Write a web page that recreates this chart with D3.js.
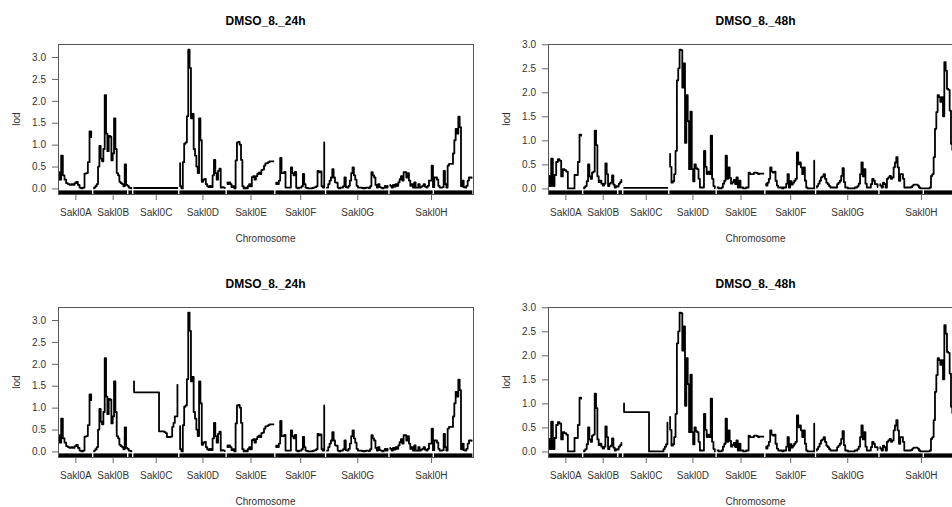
<!DOCTYPE html>
<html lang="en">
<head>
<meta charset="UTF-8">
<title>LOD scans</title>
<script src="https://cdn.jsdelivr.net/npm/d3@7"></script>
<style>
  body { margin: 0; background: #fff; }
  svg { display: block; font-family: "Liberation Sans", Arial, sans-serif; }
</style>
</head>
<body>
<script>
// chromosomes, lengths (cM) and marker-free stretches of the rug
const chromosomes = ["Sakl0A", "Sakl0B", "Sakl0C", "Sakl0D", "Sakl0E", "Sakl0F", "Sakl0G", "Sakl0H"];
const chrLengths = [100, 116, 134, 138, 142, 148, 186, 248];
const chrGap = 4;
const rugGaps = [["Sakl0B", 101, 105], ["Sakl0H", 129, 133]];
const lodTicks = [0, 0.5, 1, 1.5, 2, 2.5, 3];

// LOD values along each chromosome, evenly spaced positions
const lod24h_A = [0.37, 0.2, 0.75, 0.3, 0.2, 0.12, 0.1, 0.08, 0.1, 0.08, 0.12, 0.15, 0.08, 0.02, 0.0, 0.02, 0.34, 0.35, 0.6, 1.3, 1.17];
const lod24h_B = [0.0, 0.02, 0.05, 0.1, 0.5, 0.97, 0.68, 0.62, 0.9, 2.13, 1.25, 0.85, 1.2, 1.18, 0.64, 0.8, 1.6, 0.9, 0.35, 0.3, 0.15, 0.12, 0.1, 0.05, 0.55, 0.08, 0.06, 0.02, 0.01, 0.0];
const lod24h_C = [0.01, 0.01, 0.01, 0.01, 0.01, 0.01, 0.01, 0.01, 0.01, 0.01];
const lod24h_D = [0.58, 0.05, 0.0, 0.6, 1.02, 1.05, 1.65, 3.17, 2.75, 1.6, 1.7, 0.9, 0.75, 0.5, 0.35, 1.6, 1.1, 0.15, 0.2, 0.22, 0.1, 0.05, 0.03, 0.06, 0.03, 0.3, 0.65, 0.35, 0.2, 0.4, 0.45, 0.02, 0.03, 0.02, 0.01];
const lod24h_E = [0.14, 0.1, 0.14, 0.1, 0.03, 0.05, 0.0, 0.64, 1.05, 1.06, 1.0, 0.65, 0.05, 0.0, 0.02, 0.0, 0.05, 0.1, 0.05, 0.26, 0.28, 0.2, 0.28, 0.33, 0.36, 0.33, 0.42, 0.43, 0.52, 0.57, 0.58, 0.6, 0.62, 0.62, 0.62, 0.62];
const lod24h_F = [0.1, 0.13, 0.1, 0.18, 0.7, 0.35, 0.35, 0.38, 0.02, 0.02, 0.02, 0.02, 0.48, 0.35, 0.3, 0.38, 0.02, 0.0, 0.02, 0.02, 0.05, 0.33, 0.1, 0.02, 0.01, 0.0, 0.0, 0.0, 0.01, 0.02, 0.03, 0.05, 0.4, 0.37, 0.39, 0.05, 0.02, 1.05];
const lod24h_G = [0.02, 0.02, 0.1, 0.18, 0.25, 0.44, 0.25, 0.14, 0.13, 0.02, 0.0, 0.02, 0.02, 0.05, 0.25, 0.03, 0.02, 0.06, 0.18, 0.35, 0.48, 0.3, 0.2, 0.06, 0.02, 0.02, 0.02, 0.01, 0.0, 0.01, 0.02, 0.02, 0.01, 0.05, 0.37, 0.3, 0.25, 0.08, 0.02, 0.1, 0.03, 0.02, 0.0, 0.02, 0.06, 0.02, 0.06];
const lod24h_H = [0.08, 0.06, 0.02, 0.08, 0.04, 0.1, 0.06, 0.14, 0.21, 0.28, 0.18, 0.37, 0.37, 0.25, 0.35, 0.18, 0.06, 0.1, 0.02, 0.14, 0.02, 0.02, 0.1, 0.02, 0.04, 0.06, 0.1, 0.04, 0.02, 0.06, 0.18, 0.18, 0.52, 0.03, 0.25, 0.25, 0.2, 0.06, 0.02, 0.02, 0.03, 0.4, 0.1, 0.02, 0.52, 0.56, 0.56, 0.56, 0.8, 1.1, 1.36, 1.25, 1.64, 1.4, 0.05, 0.18, 0.03, 0.02, 0.06, 0.18, 0.25, 0.25, 0.24];
// Sakl0C when its genotypes are filled in (lower row)
const lod24h_C_imp = [1.6, 1.35, 1.35, 1.35, 1.35, 1.35, 1.35, 1.35, 1.35, 1.35, 1.35, 1.35, 1.35, 1.35, 1.35, 1.35, 1.35, 1.35, 1.35, 1.35, 0.46, 0.46, 0.46, 0.46, 0.44, 0.42, 0.33, 0.33, 0.33, 0.34, 0.56, 0.65, 0.8, 0.8, 1.52];

const lod48h_A = [0.26, 0.05, 0.62, 0.05, 0.28, 0.55, 0.61, 0.58, 0.25, 0.4, 0.38, 0.35, 0.0, 0.0, 0.0, 0.0, 0.28, 0.28, 0.55, 1.12, 1.1];
const lod48h_B = [0.0, 0.02, 0.05, 0.15, 0.5, 0.25, 0.2, 0.33, 0.35, 1.2, 0.9, 0.25, 0.13, 0.16, 0.1, 0.06, 0.1, 0.52, 0.3, 0.05, 0.1, 0.12, 0.27, 0.08, 0.02, 0.05, 0.04, 0.1, 0.13, 0.18];
const lod48h_C = [0.01, 0.01, 0.01, 0.01, 0.01, 0.01, 0.01, 0.01, 0.01, 0.01];
const lod48h_D = [0.72, 0.45, 0.12, 0.15, 0.3, 0.78, 2.25, 2.5, 2.89, 2.88, 2.1, 2.6, 0.95, 1.94, 1.4, 0.4, 1.6, 0.4, 0.15, 0.5, 0.42, 0.4, 0.2, 0.02, 0.02, 0.02, 0.78, 0.45, 0.3, 0.35, 0.3, 1.1, 0.2, 0.05, 0.0];
const lod48h_E = [0.02, 0.02, 0.0, 0.0, 0.02, 0.1, 0.16, 0.68, 0.2, 0.44, 0.22, 0.1, 0.13, 0.18, 0.09, 0.23, 0.02, 0.16, 0.02, 0.02, 0.0, 0.0, 0.02, 0.02, 0.33, 0.3, 0.3, 0.3, 0.33, 0.33, 0.32, 0.3, 0.31, 0.31, 0.31, 0.31];
const lod48h_F = [0.1, 0.06, 0.12, 0.2, 0.44, 0.35, 0.33, 0.35, 0.16, 0.06, 0.02, 0.02, 0.02, 0.0, 0.02, 0.02, 0.1, 0.3, 0.02, 0.15, 0.08, 0.12, 0.16, 0.2, 0.75, 0.5, 0.54, 0.44, 0.3, 0.44, 0.16, 0.02, 0.0, 0.0, 0.0, 0.0, 0.0, 0.58];
const lod48h_G = [0.02, 0.05, 0.1, 0.16, 0.23, 0.25, 0.3, 0.2, 0.12, 0.09, 0.05, 0.02, 0.02, 0.02, 0.02, 0.02, 0.09, 0.12, 0.16, 0.26, 0.42, 0.13, 0.02, 0.02, 0.0, 0.0, 0.0, 0.0, 0.0, 0.02, 0.02, 0.05, 0.1, 0.3, 0.54, 0.25, 0.4, 0.1, 0.02, 0.02, 0.02, 0.09, 0.2, 0.16, 0.09, 0.09, 0.03];
const lod48h_H = [0.09, 0.06, 0.02, 0.12, 0.09, 0.02, 0.2, 0.23, 0.26, 0.2, 0.23, 0.44, 0.54, 0.65, 0.44, 0.16, 0.3, 0.3, 0.2, 0.02, 0.02, 0.02, 0.02, 0.02, 0.03, 0.06, 0.08, 0.08, 0.08, 0.06, 0.02, 0.0, 0.0, 0.0, 0.0, 0.0, 0.0, 0.0, 0.02, 0.26, 0.3, 0.65, 1.24, 1.59, 1.94, 1.9, 1.8, 1.9, 1.5, 2.63, 2.45, 2.07, 2.05, 1.62, 0.93, 0.8, 0.5, 0.3, 0.2, 0.15, 0.1, 0.1, 0.1];
const lod48h_C_imp = [1.0, 0.82, 0.82, 0.82, 0.82, 0.82, 0.82, 0.82, 0.82, 0.82, 0.82, 0.82, 0.82, 0.82, 0.82, 0.82, 0.82, 0.82, 0.82, 0.82, 0.0, 0.0, 0.0, 0.0, 0.0, 0.0, 0.0, 0.0, 0.0, 0.0, 0.0, 0.05, 0.1, 0.15, 0.6];

const panels = [
    { title: "DMSO_8._24h", series: [lod24h_A, lod24h_B, lod24h_C, lod24h_D, lod24h_E, lod24h_F, lod24h_G, lod24h_H] },
    { title: "DMSO_8._48h", series: [lod48h_A, lod48h_B, lod48h_C, lod48h_D, lod48h_E, lod48h_F, lod48h_G, lod48h_H] },
    { title: "DMSO_8._24h", series: [lod24h_A, lod24h_B, lod24h_C_imp, lod24h_D, lod24h_E, lod24h_F, lod24h_G, lod24h_H] },
    { title: "DMSO_8._48h", series: [lod48h_A, lod48h_B, lod48h_C_imp, lod48h_D, lod48h_E, lod48h_F, lod48h_G, lod48h_H] }
];

const width = 952;
const height = 507;
const cellW = 490;
const cellH = 263;
const boxLeft = 58;
const boxRight = 473;
const boxTop = 44;
const boxBottom = 194;

// start of each chromosome on the genome-wide axis
const chrStart = [];
let acc = 0;
chrLengths.forEach(len => { chrStart.push(acc); acc += len + chrGap; });
const totalLen = acc - chrGap;

const svg = d3.select("body")
    .append("svg")
    .attr("width", width)
    .attr("height", height);

panels.forEach((panel, k) => {
    const col = k % 2;
    const row = Math.floor(k / 2);
    const g = svg.append("g")
        .attr("transform", `translate(${col * cellW},${row * cellH})`);

    const x = d3.scaleLinear()
        .domain([-2, totalLen + 2])
        .range([boxLeft, boxRight]);

    const maxLod = d3.max(panel.series.flat());
    const y = d3.scaleLinear()
        .domain([-0.04 * maxLod, 1.04 * maxLod])
        .range([boxBottom, boxTop]);

    // rug of markers
    chromosomes.forEach((name, i) => {
        const a = chrStart[i], b = a + chrLengths[i];
        let pieces = [[a, b]];
        rugGaps.filter(r => r[0] === name).forEach(r => {
            pieces = pieces.flatMap(([s, e]) =>
                [[s, a + r[1]], [a + r[2], e]]);
        });
        pieces.forEach(([s, e]) => {
            g.append("rect")
                .attr("x", x(s))
                .attr("y", boxBottom - 3.6)
                .attr("width", x(e) - x(s))
                .attr("height", 3.6)
                .attr("fill", "#000");
        });
    });

    // LOD curves, one path per chromosome (flat between markers)
    const line = d3.line()
        .curve(d3.curveStep)
        .x(d => x(d[0]))
        .y(d => y(d[1]));

    panel.series.forEach((vals, i) => {
        const step = chrLengths[i] / (vals.length - 1);
        const pts = vals.map((v, j) => [chrStart[i] + j * step, v]);
        g.append("path")
            .attr("d", line(pts))
            .attr("fill", "none")
            .attr("stroke", "#000")
            .attr("stroke-width", 1.8)
            .attr("stroke-linejoin", "round");
    });

    // frame
    g.append("rect")
        .attr("x", boxLeft + 0.5)
        .attr("y", boxTop + 0.5)
        .attr("width", boxRight - boxLeft)
        .attr("height", boxBottom - boxTop)
        .attr("fill", "none")
        .attr("stroke", "#555")
        .attr("stroke-width", 1);

    // y axis
    const yAxis = g.append("g")
        .attr("transform", `translate(${boxLeft},0)`)
        .call(d3.axisLeft(y)
            .tickValues(lodTicks)
            .tickFormat(d3.format(".1f"))
            .tickSize(6)
            .tickPadding(6));
    yAxis.select(".domain").remove();
    yAxis.selectAll("line").attr("stroke", "#666");
    yAxis.selectAll("text")
        .attr("font-size", 10)
        .attr("font-family", null)
        .attr("fill", "#333");

    // x axis at chromosome midpoints
    const mids = chromosomes.map((c, i) => chrStart[i] + chrLengths[i] / 2);
    const xAxis = g.append("g")
        .attr("transform", `translate(0,${boxBottom})`)
        .call(d3.axisBottom(x)
            .tickValues(mids)
            .tickFormat((d, i) => chromosomes[i])
            .tickSize(6)
            .tickPadding(9));
    xAxis.select(".domain").remove();
    xAxis.selectAll("line").attr("stroke", "#666");
    xAxis.selectAll("text")
        .attr("font-size", 10)
        .attr("font-family", null)
        .attr("fill", "#333");

    // titles
    g.append("text")
        .attr("x", (boxLeft + boxRight) / 2)
        .attr("y", 25)
        .attr("text-anchor", "middle")
        .attr("font-size", 12)
        .attr("font-weight", "bold")
        .attr("fill", "#000")
        .text(panel.title);

    g.append("text")
        .attr("x", (boxLeft + boxRight) / 2)
        .attr("y", 241.5)
        .attr("text-anchor", "middle")
        .attr("font-size", 10)
        .attr("fill", "#333")
        .text("Chromosome");

    g.append("text")
        .attr("transform", `translate(20,${(boxTop + boxBottom) / 2}) rotate(-90)`)
        .attr("text-anchor", "middle")
        .attr("font-size", 10)
        .attr("fill", "#333")
        .text("lod");
});
</script>
</body>
</html>
